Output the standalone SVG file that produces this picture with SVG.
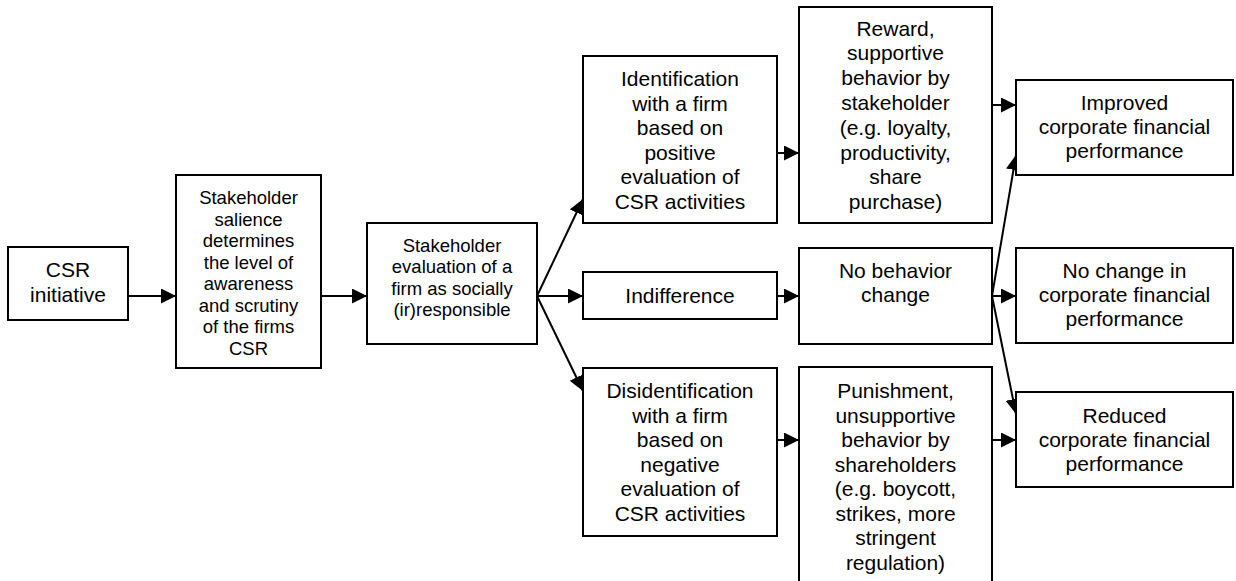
<svg xmlns="http://www.w3.org/2000/svg" width="1236" height="581" viewBox="0 0 1236 581">
<style>
.box{fill:#fff;stroke:#000;stroke-width:2}
.t{font-family:"Liberation Sans",Arial,sans-serif;font-size:21px;fill:#000;text-anchor:middle}
.s{font-family:"Liberation Sans",Arial,sans-serif;font-size:18.5px;fill:#000;text-anchor:middle}
.c{stroke:#000;stroke-width:2;fill:none;marker-end:url(#ah)}
</style>
<defs>
<marker id="ah" markerUnits="userSpaceOnUse" markerWidth="16" markerHeight="16" refX="15" refY="7.5" orient="auto">
<path d="M0,0 L15,7.5 L0,15 Z" fill="#000"/>
</marker>
</defs>
<rect width="1236" height="581" fill="#fff"/>
<g id="connectors">
<line class="c" x1="128" y1="296" x2="176" y2="296"/>
<line class="c" x1="321" y1="296" x2="367" y2="296"/>
<line class="c" x1="537" y1="296" x2="583" y2="296"/>
<line class="c" x1="537" y1="296" x2="583" y2="199"/>
<line class="c" x1="537" y1="296" x2="583" y2="391"/>
<line class="c" x1="777" y1="153" x2="799" y2="153"/>
<line class="c" x1="777" y1="296" x2="799" y2="296"/>
<line class="c" x1="777" y1="440" x2="799" y2="440"/>
<line class="c" x1="992" y1="105" x2="1016" y2="105"/>
<line class="c" x1="992" y1="296" x2="1016" y2="296"/>
<line class="c" x1="992" y1="440" x2="1016" y2="440"/>
<line class="c" x1="992" y1="296" x2="1016" y2="155"/>
<line class="c" x1="992" y1="296" x2="1016" y2="414"/>
</g>
<g id="csr">
<rect class="box" x="8" y="247" width="120" height="73"/>
<text class="t" x="68" y="277">CSR</text>
<text class="t" x="68" y="302">initiative</text>
</g>
<g id="salience">
<rect class="box" x="176" y="175" width="145" height="193"/>
<text class="s" x="248.5" y="204.3">Stakeholder</text>
<text class="s" x="248.5" y="225.8">salience</text>
<text class="s" x="248.5" y="247.3">determines</text>
<text class="s" x="248.5" y="268.8">the level of</text>
<text class="s" x="248.5" y="290.3">awareness</text>
<text class="s" x="248.5" y="311.8">and scrutiny</text>
<text class="s" x="248.5" y="333.3">of the firms</text>
<text class="s" x="248.5" y="354.8">CSR</text>
</g>
<g id="evaluation">
<rect class="box" x="367" y="223" width="170" height="121"/>
<text class="s" x="452" y="252">Stakeholder</text>
<text class="s" x="452" y="273.3">evaluation of a</text>
<text class="s" x="452" y="294.6">firm as socially</text>
<text class="s" x="452" y="316">(ir)responsible</text>
</g>
<g id="identification">
<rect class="box" x="583" y="56" width="194" height="167"/>
<text class="t" x="680" y="86">Identification</text>
<text class="t" x="680" y="110.5">with a firm</text>
<text class="t" x="680" y="135">based on</text>
<text class="t" x="680" y="159.5">positive</text>
<text class="t" x="680" y="184">evaluation of</text>
<text class="t" x="680" y="208.5">CSR activities</text>
</g>
<g id="indifference">
<rect class="box" x="583" y="272" width="194" height="47"/>
<text class="t" x="680" y="303">Indifference</text>
</g>
<g id="disidentification">
<rect class="box" x="583" y="368" width="194" height="168"/>
<text class="t" x="680" y="398">Disidentification</text>
<text class="t" x="680" y="422.5">with a firm</text>
<text class="t" x="680" y="447">based on</text>
<text class="t" x="680" y="471.5">negative</text>
<text class="t" x="680" y="496">evaluation of</text>
<text class="t" x="680" y="520.5">CSR activities</text>
</g>
<g id="reward">
<rect class="box" x="799" y="7" width="193" height="216"/>
<text class="t" x="895.5" y="35.5">Reward,</text>
<text class="t" x="895.5" y="60.3">supportive</text>
<text class="t" x="895.5" y="85.1">behavior by</text>
<text class="t" x="895.5" y="109.9">stakeholder</text>
<text class="t" x="895.5" y="134.7">(e.g. loyalty,</text>
<text class="t" x="895.5" y="159.5">productivity,</text>
<text class="t" x="895.5" y="184.3">share</text>
<text class="t" x="895.5" y="209.1">purchase)</text>
</g>
<g id="nobehavior">
<rect class="box" x="799" y="248" width="193" height="96"/>
<text class="t" x="895.5" y="278">No behavior</text>
<text class="t" x="895.5" y="302">change</text>
</g>
<g id="punishment">
<rect class="box" x="799" y="367" width="193" height="230"/>
<text class="t" x="895.5" y="398">Punishment,</text>
<text class="t" x="895.5" y="422.5">unsupportive</text>
<text class="t" x="895.5" y="447">behavior by</text>
<text class="t" x="895.5" y="471.5">shareholders</text>
<text class="t" x="895.5" y="496">(e.g. boycott,</text>
<text class="t" x="895.5" y="520.5">strikes, more</text>
<text class="t" x="895.5" y="545">stringent</text>
<text class="t" x="895.5" y="569.5">regulation)</text>
</g>
<g id="improved">
<rect class="box" x="1016" y="80" width="217" height="95"/>
<text class="t" x="1124.5" y="110">Improved</text>
<text class="t" x="1124.5" y="134">corporate financial</text>
<text class="t" x="1124.5" y="158">performance</text>
</g>
<g id="nochange">
<rect class="box" x="1016" y="248" width="217" height="95"/>
<text class="t" x="1124.5" y="277.7">No change in</text>
<text class="t" x="1124.5" y="301.7">corporate financial</text>
<text class="t" x="1124.5" y="325.7">performance</text>
</g>
<g id="reduced">
<rect class="box" x="1016" y="392" width="217" height="95"/>
<text class="t" x="1124.5" y="422.7">Reduced</text>
<text class="t" x="1124.5" y="446.7">corporate financial</text>
<text class="t" x="1124.5" y="470.7">performance</text>
</g>
</svg>
